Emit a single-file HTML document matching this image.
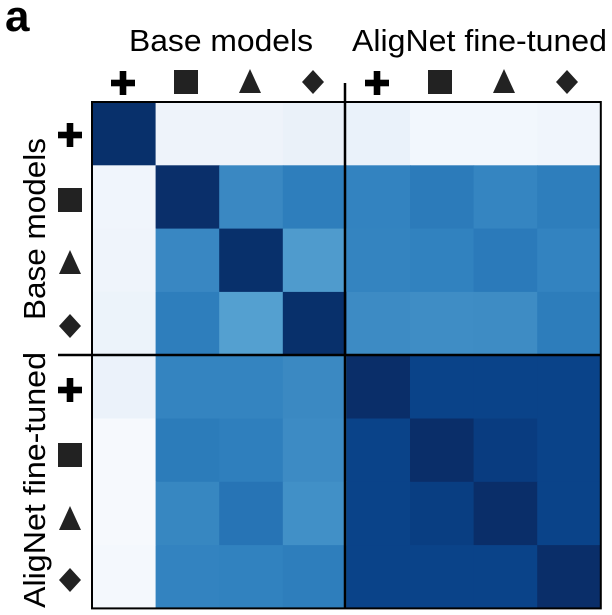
<!DOCTYPE html>
<html><head><meta charset="utf-8"><style>
html,body{margin:0;padding:0;background:#fff;}
svg{display:block;}
text{font-family:"Liberation Sans",Arial,sans-serif;}
</style></head><body>
<svg width="612" height="615" viewBox="0 0 612 615" xmlns="http://www.w3.org/2000/svg">
<defs>
<g id="plus"><rect x="-12" y="-3.3" width="24" height="6.6" fill="#000"/><rect x="-3.3" y="-12" width="6.6" height="24" fill="#000"/></g>
<g id="sq"><rect x="-12" y="-12" width="24" height="24" fill="#222"/></g>
<g id="tri"><polygon points="0,-13 11,11 -11,11" fill="#222"/></g>
<g id="dia"><polygon points="0,-12 11,0 0,12 -11,0" fill="#222"/></g>
</defs>
<text x="5" y="31" font-size="44" font-weight="bold">a</text>
<text x="129" y="51" font-size="31" textLength="184" lengthAdjust="spacingAndGlyphs">Base models</text>
<text x="352" y="51" font-size="31" textLength="255" lengthAdjust="spacingAndGlyphs">AligNet fine-tuned</text>
<g id="cells"></g>
<script>
var c=[
["#08306b","#eef3fa","#eef3fa","#eaf1f9","#eaf2fa","#f2f7fd","#f2f7fd","#f0f5fc"],
["#f0f5fc","#0a2f6a","#3a88c2","#2e7ebc","#3383c0","#2c7bba","#3585c1","#2e7ebc"],
["#eff4fb","#3987c2","#08306b","#4f9bcd","#3484c0","#3182bf","#2b7aba","#3383c0"],
["#ecf3fa","#2e7ebc","#54a0d0","#08306b","#3d8bc4","#3f8dc5","#3e8cc4","#2d7dbb"],
["#ebf2fa","#3484c0","#3484c0","#3b89c2","#0a2e69","#0a4389","#0a4389","#0a4389"],
["#f6f9fd","#2c7cba","#2f7fbd","#3d8bc4","#0a4389","#0a2e69","#093c80","#0a4389"],
["#f6f9fd","#3787c1","#2774b5","#4190c7","#0a4389","#093e82","#0a2e69","#0a4389"],
["#f4f8fd","#3383c0","#3182bf","#2e7ebc","#0a4389","#0a4389","#0a4389","#0a2e69"]];
var g=document.getElementById("cells"),ns="http://www.w3.org/2000/svg";
var x0=92,y0=102,w=63.6,h=63.3;
for(var i=0;i<8;i++)for(var j=0;j<8;j++){var r=document.createElementNS(ns,"rect");
r.setAttribute("x",x0+j*w);r.setAttribute("y",y0+i*h);r.setAttribute("width",w+0.6);r.setAttribute("height",h+0.6);r.setAttribute("fill",c[i][j]);g.appendChild(r);}
</script>
<rect x="92" y="102" width="508.8" height="506.4" fill="none" stroke="#000" stroke-width="2"/>
<line x1="345" y1="83" x2="345" y2="609" stroke="#000" stroke-width="2.5"/>
<line x1="58" y1="355" x2="601" y2="355" stroke="#000" stroke-width="2.5"/>
<use href="#plus" x="123" y="83"/><use href="#sq" x="186" y="82"/><use href="#tri" x="250" y="82"/><use href="#dia" x="313" y="82"/>
<use href="#plus" x="377" y="83"/><use href="#sq" x="440" y="82"/><use href="#tri" x="504" y="82"/><use href="#dia" x="567" y="82"/>
<use href="#plus" x="70" y="135"/><use href="#sq" x="70" y="200"/><use href="#tri" x="70" y="263"/><use href="#dia" x="70" y="326"/>
<use href="#plus" x="70" y="390"/><use href="#sq" x="70" y="455"/><use href="#tri" x="70" y="519"/><use href="#dia" x="70" y="580"/>
<text transform="translate(45,320) rotate(-90)" font-size="31" textLength="182" lengthAdjust="spacingAndGlyphs">Base models</text>
<text transform="translate(45,608) rotate(-90)" font-size="31" textLength="256" lengthAdjust="spacingAndGlyphs">AligNet fine-tuned</text>
</svg>
</body></html>
